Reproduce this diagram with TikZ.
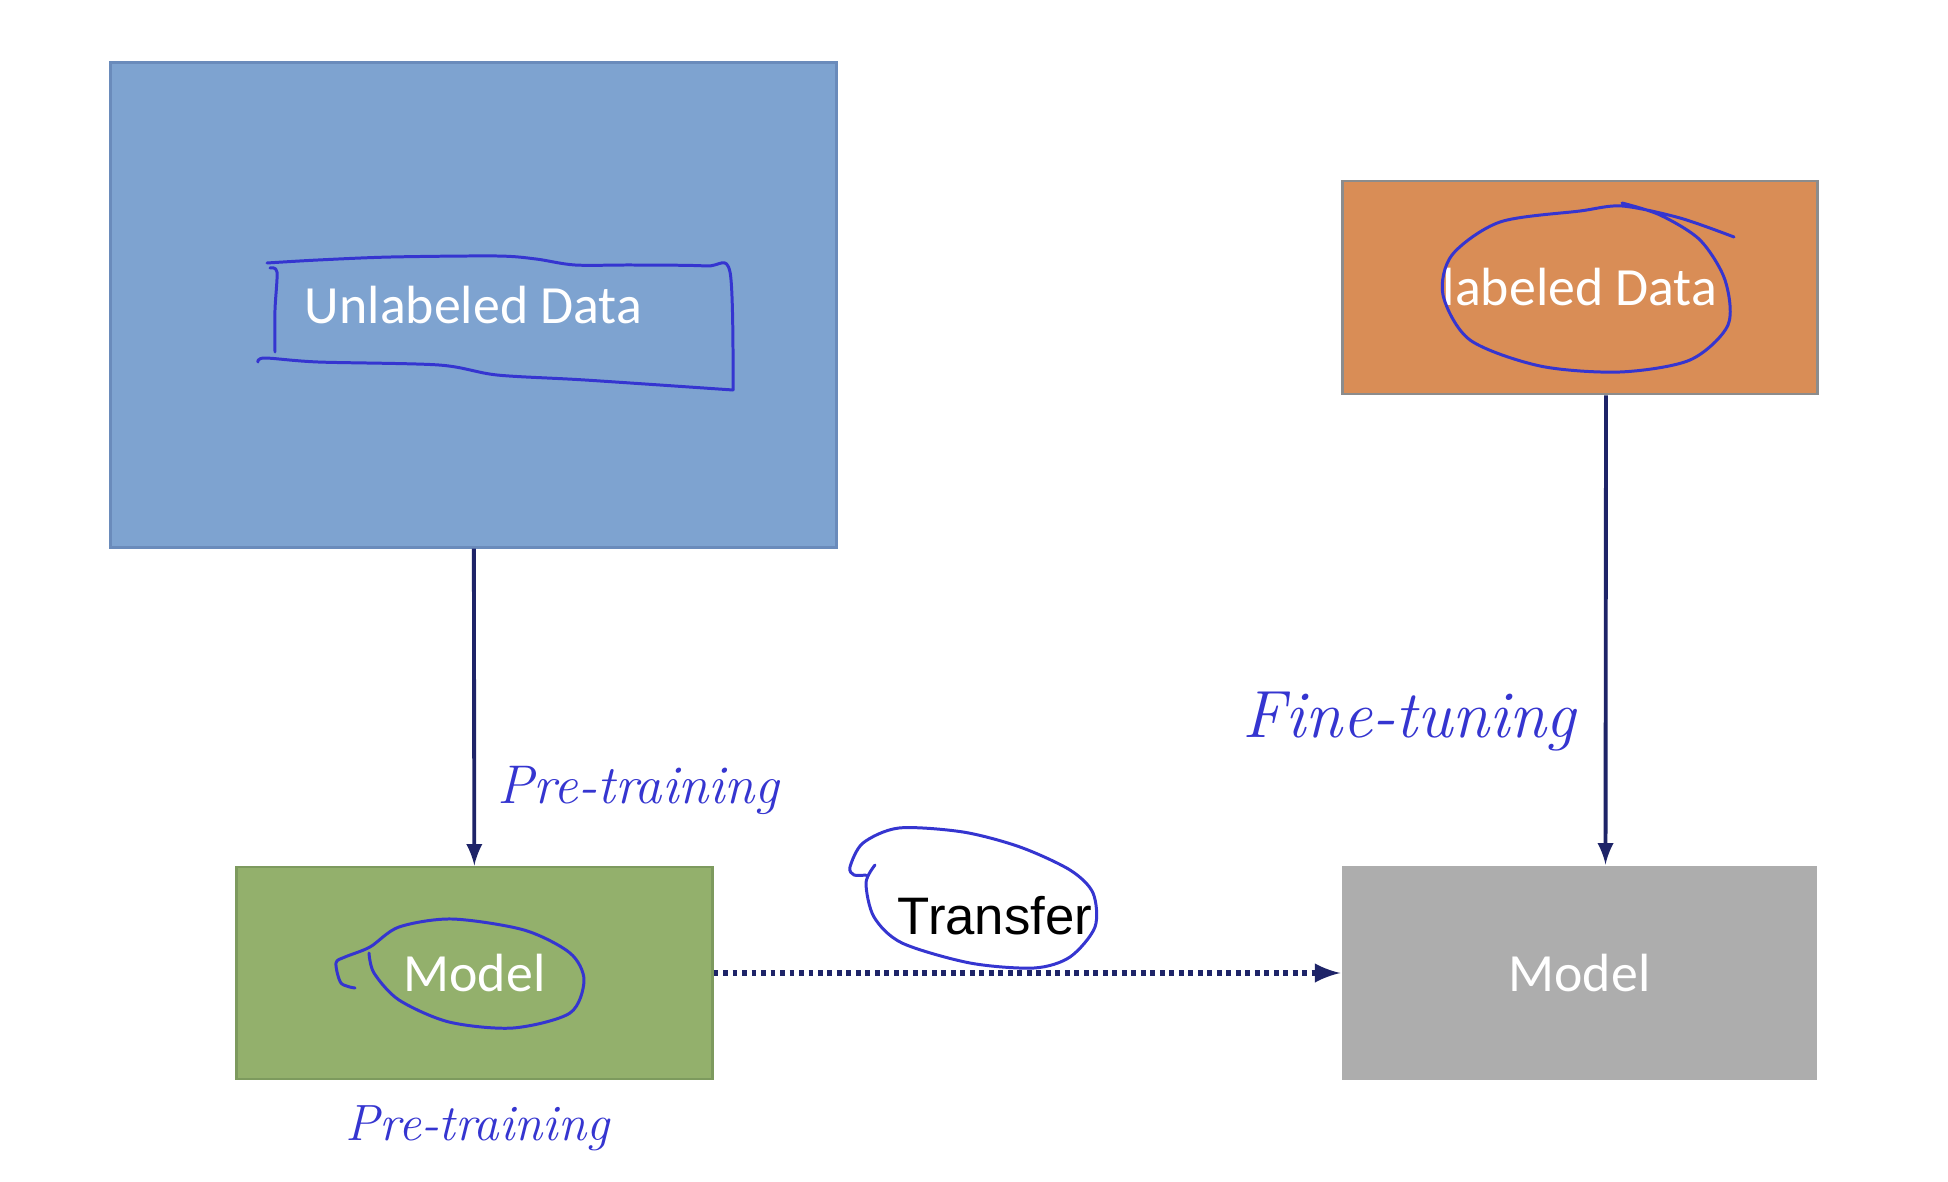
\documentclass[tikz,border=0pt]{standalone}
\usepackage{fontspec}
\newfontfamily\boxfont{Carlito}
\newfontfamily\arialfont{Liberation Sans}
\usepackage{tikz}
\usetikzlibrary{positioning}
\definecolor{boxblue}{HTML}{7EA3D0}
\definecolor{boxblueline}{HTML}{6A8BBB}
\definecolor{boxorange}{HTML}{D98D56}
\definecolor{boxorangeline}{HTML}{8C8C8C}
\definecolor{boxgreen}{HTML}{93B06C}
\definecolor{boxgreenline}{HTML}{7D9A5E}
\definecolor{boxgray}{HTML}{ADADAD}
\definecolor{arrownavy}{HTML}{1E2468}
\definecolor{inkblue}{HTML}{3535D0}

\begin{document}
\begin{tikzpicture}[x=0.01cm,y=-0.01cm,
  box/.style={rectangle,inner sep=0pt,line width=0.8pt,text=white,
    font=\boxfont\fontsize{15.3}{18}\selectfont},
  flow/.style={->,>=latex,line width=1.1pt,draw=arrownavy},
  ink/.style={draw=inkblue,line width=0.85pt,line cap=round,line join=round},
  note/.style={text=inkblue,anchor=west,inner sep=0pt}]
\useasboundingbox (0,0) rectangle (1948,1182);
\fill[white] (0,0) rectangle (1948,1182);

% boxes
\node[box,fill=boxblue,draw=boxblueline,minimum width=7.25cm,minimum height=4.84cm] (unlabeled) at (473.5,305) {Unlabeled Data};
\node[box,fill=boxorange,draw=boxorangeline,minimum width=4.74cm,minimum height=2.13cm] (labeled) at (1580,287.5) {labeled Data};
\node[box,fill=boxgreen,draw=boxgreenline,minimum width=4.75cm,minimum height=2.12cm] (pretrained) at (474.5,973) {Model};
\node[box,fill=boxgray,minimum width=4.75cm,minimum height=2.14cm] (finetuned) at (1579.5,973) {Model};
\node[font=\arialfont\fontsize{15}{18}\selectfont] (transfer) at (995,916) {Transfer};

% connectors
\draw[flow] (unlabeled) -- (pretrained);
\draw[flow] ([xshift=0.26cm]labeled.south) -- ([xshift=0.26cm]finetuned.north);
\draw[flow,line width=1.5pt,dash pattern=on 1.4pt off 1.3pt] (pretrained) -- (finetuned);

% pen notes
\node[note,font=\itshape\fontsize{15.5}{19}\selectfont] (pretrainnote) at (497,790) {Pre-training};
\node[note,font=\itshape\fontsize{19}{22}\selectfont] (finetunenote) at (1242,722) {Fine-tuning};
\node[note,font=\itshape\fontsize{14.5}{17}\selectfont] (pretrainbelow) at (345,1128) {Pre-training};

\draw[ink] plot[smooth] coordinates {(267,263) (318,260) (391,257) (497,256) (536,259) (575,265) (633,265) (706,266) (730,272) (733,390)};
\draw[ink] plot[smooth] coordinates {(258,362) (265,358) (318,362) (439,365) (497,375) (585,380) (733,390)};
\draw[ink] plot[smooth] coordinates {(270,268) (277,272) (275,310) (275,352)};
\draw[ink] plot[smooth] coordinates {(1734,237) (1680,218) (1622,206) (1580,211) (1500,222) (1452,255) (1443,295) (1470,340) (1540,366) (1620,372) (1690,360) (1728,325) (1725,280) (1700,240) (1660,215) (1622,203)};
\draw[ink] plot[smooth] coordinates {(355,988) (341,983) (336,963) (345,957) (370,947) (399,927) (452,919) (524,930) (570,953) (584,980) (570,1013) (513,1028) (449,1022) (399,1000) (374,973) (369,953)};
\draw[ink] plot[smooth] coordinates {(875,865) (866,883) (874,917) (902,943) (970,963) (1034,968) (1070,957) (1095,927) (1093,893) (1070,870) (1020,847) (963,832) (899,828) (863,843) (850,867) (854,875) (866,875)};
\end{tikzpicture}
\end{document}
